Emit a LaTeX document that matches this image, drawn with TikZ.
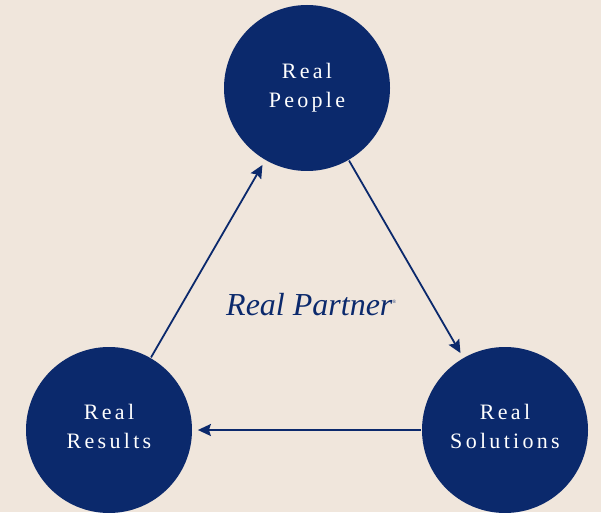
\documentclass[tikz,border=0pt]{standalone}
\usepackage{fontspec}
\setmainfont{Liberation Serif}
\newfontfamily\spaced[LetterSpace=15]{Liberation Serif}
\usetikzlibrary{arrows.meta}
\definecolor{navy}{RGB}{11,41,108}
\definecolor{paper}{RGB}{240,230,220}
\begin{document}
\begin{tikzpicture}[x=1pt, y=1pt, line width=1.8pt,
  main/.style = {circle, fill=navy, inner sep=0pt, minimum size=166pt, text=white, align=center,
                 font={\spaced\fontsize{22}{29}\selectfont}},
  arr/.style = {navy, -{Stealth[length=13pt, width=12pt, inset=2pt]}, shorten >=5pt}]
  \clip (0,0) rectangle (601,512);
  \fill[paper] (0,0) rectangle (601,512);
  \node[main](1) at (307,424) {Real\\People};
  \node[main, text depth=8pt](2) at (505,82) {Real\\Solutions};
  \node[main, text depth=8pt](3) at (109,82) {Real\\Results};
  \node[text=navy, anchor=base west, font={\itshape\fontsize{32}{36}\selectfont}](4) at (222,197)
    {Real Partner\raisebox{12pt}{\fontsize{5}{6}\selectfont\textregistered}};
  \draw[arr] (1) -- (2);
  \draw[arr] (2) -- (3);
  \draw[arr] (3) -- (1);
\end{tikzpicture}
\end{document}
